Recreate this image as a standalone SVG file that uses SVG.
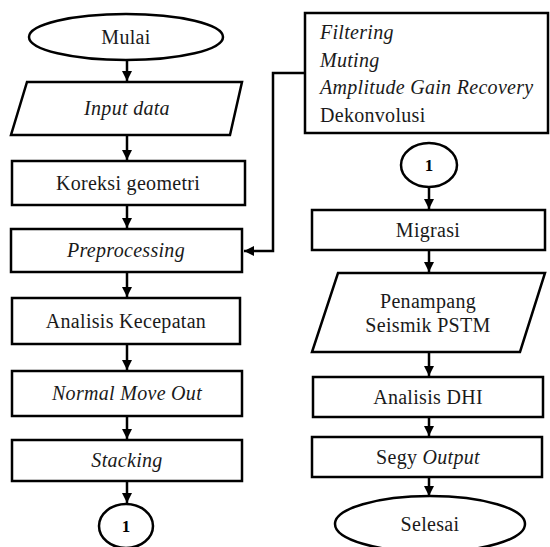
<svg xmlns="http://www.w3.org/2000/svg" width="550" height="547" viewBox="0 0 550 547">
<style>
.s{fill:#fff;stroke:#000;stroke-width:2.5}
.t{font-family:'Liberation Serif','Times New Roman',serif;font-size:20px;fill:#1a1a1a;text-anchor:middle;letter-spacing:0.3px}
.i{font-style:italic}
.n{font-family:'Liberation Serif','Times New Roman',serif;font-size:17px;font-weight:bold;fill:#000;text-anchor:middle}
.c{fill:none;stroke:#000;stroke-width:2.5}
</style>
<defs>
<marker id="a" markerUnits="userSpaceOnUse" markerWidth="11" markerHeight="11" refX="10" refY="5" orient="auto">
<path d="M0,0 L10,5 L0,10 z" fill="#000"/>
</marker>
</defs>
<rect width="550" height="547" fill="#fff"/>
<g id="connectors">
<line class="c" x1="127" y1="60" x2="127" y2="81" marker-end="url(#a)"/>
<line class="c" x1="127" y1="135" x2="127" y2="160" marker-end="url(#a)"/>
<line class="c" x1="127" y1="205" x2="127" y2="228" marker-end="url(#a)"/>
<line class="c" x1="127" y1="272" x2="127" y2="297" marker-end="url(#a)"/>
<line class="c" x1="127" y1="344" x2="127" y2="370" marker-end="url(#a)"/>
<line class="c" x1="127" y1="416" x2="127" y2="439" marker-end="url(#a)"/>
<line class="c" x1="127" y1="481" x2="127" y2="503" marker-end="url(#a)"/>
<polyline class="c" points="305,73 273,73 273,251 244,251" marker-end="url(#a)"/>
<line class="c" x1="429" y1="187" x2="429" y2="209" marker-end="url(#a)"/>
<line class="c" x1="429" y1="250" x2="429" y2="272" marker-end="url(#a)"/>
<line class="c" x1="429" y1="352" x2="429" y2="376" marker-end="url(#a)"/>
<line class="c" x1="429" y1="417" x2="429" y2="436" marker-end="url(#a)"/>
<line class="c" x1="429" y1="477" x2="429" y2="496" marker-end="url(#a)"/>
</g>
<g id="mulai">
<ellipse class="s" cx="126" cy="37" rx="97" ry="23"/>
<text class="t" x="126" y="44">Mulai</text>
</g>
<g id="input">
<polygon class="s" points="27,82 242,82 230,135 11,135"/>
<text class="t i" x="127" y="115">Input data</text>
</g>
<g id="koreksi">
<rect class="s" x="12" y="161" width="233" height="44"/>
<text class="t" x="128" y="190">Koreksi geometri</text>
</g>
<g id="preprocessing">
<rect class="s" x="11" y="229" width="231" height="43"/>
<text class="t i" x="126" y="257">Preprocessing</text>
</g>
<g id="analisis-kecepatan">
<rect class="s" x="12" y="298" width="228" height="46"/>
<text class="t" x="126" y="328">Analisis Kecepatan</text>
</g>
<g id="nmo">
<rect class="s" x="12" y="371" width="230" height="45"/>
<text class="t i" x="127" y="400">Normal Move Out</text>
</g>
<g id="stacking">
<rect class="s" x="12" y="440" width="230" height="41"/>
<text class="t i" x="127" y="467">Stacking</text>
</g>
<g id="connector-1-left">
<ellipse class="s" cx="126" cy="526" rx="27" ry="22"/>
<text class="n" x="126" y="532">1</text>
</g>
<g id="filtering">
<rect class="s" x="305" y="13" width="243" height="120"/>
<text class="t i" x="320" y="39" style="text-anchor:start">Filtering</text>
<text class="t i" x="320" y="67" style="text-anchor:start">Muting</text>
<text class="t i" x="320" y="94" style="text-anchor:start">Amplitude Gain Recovery</text>
<text class="t" x="320" y="122" style="text-anchor:start">Dekonvolusi</text>
</g>
<g id="connector-1-right">
<ellipse class="s" cx="429" cy="165" rx="28" ry="22"/>
<text class="n" x="429" y="171">1</text>
</g>
<g id="migrasi">
<rect class="s" x="312" y="210" width="233" height="40"/>
<text class="t" x="428" y="237">Migrasi</text>
</g>
<g id="penampang">
<polygon class="s" points="338,273 545,273 520,352 312,352"/>
<text class="t" x="428" y="308">Penampang</text>
<text class="t" x="428" y="332">Seismik PSTM</text>
</g>
<g id="dhi">
<rect class="s" x="313" y="377" width="230" height="40"/>
<text class="t" x="428" y="404">Analisis DHI</text>
</g>
<g id="segy">
<rect class="s" x="312" y="437" width="230" height="40"/>
<text class="t" x="428" y="464">Segy <tspan class="i">Output</tspan></text>
</g>
<g id="selesai">
<ellipse class="s" cx="430" cy="524" rx="95" ry="28"/>
<text class="t" x="430" y="531">Selesai</text>
</g>
</svg>
